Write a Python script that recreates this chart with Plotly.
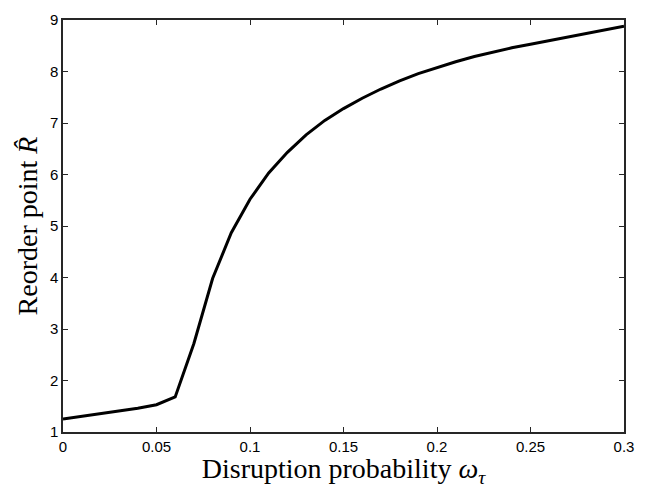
import plotly.graph_objects as go

omega = [0.00, 0.01, 0.02, 0.03, 0.04, 0.05, 0.06, 0.07, 0.08, 0.09, 0.10,
         0.11, 0.12, 0.13, 0.14, 0.15, 0.16, 0.17, 0.18, 0.19, 0.20,
         0.21, 0.22, 0.23, 0.24, 0.25, 0.26, 0.27, 0.28, 0.29, 0.30]
reorder = [1.25, 1.30, 1.35, 1.40, 1.46, 1.53, 1.68, 2.72, 3.98, 4.87, 5.52,
           6.03, 6.43, 6.77, 7.05, 7.28, 7.48, 7.66, 7.82, 7.96, 8.08,
           8.19, 8.29, 8.38, 8.46, 8.53, 8.60, 8.67, 8.73, 8.80, 8.88]

xticks = [0, 0.05, 0.1, 0.15, 0.2, 0.25, 0.3]
xticklabels = ["0", "0.05", "0.1", "0.15", "0.2", "0.25", "0.3"]
yticks = [1, 2, 3, 4, 5, 6, 7, 8, 9]

fig = go.Figure()
fig.add_trace(go.Scatter(x=omega, y=reorder, mode="lines",
                         line=dict(color="black", width=3), showlegend=False))

axis_common = dict(showgrid=False, zeroline=False, showline=True, linecolor="#262626",
                   linewidth=1.5, mirror="ticks", ticks="inside", ticklen=5,
                   tickcolor="#262626", tickwidth=1,
                   tickfont=dict(family="Liberation Sans, Arial", size=15, color="black"))

title_font = dict(family="Liberation Serif, DejaVu Serif", size=28, color="black")

fig.update_layout(
    width=656, height=488,
    margin=dict(l=63, r=32, t=11, b=56),
    paper_bgcolor="white", plot_bgcolor="white",
    xaxis=dict(range=[0, 0.3], tickvals=xticks, ticktext=xticklabels,
               title=dict(text="Disruption probability <i>ω</i><sub><i>τ</i></sub>",
                          font=title_font, standoff=0),
               **axis_common),
    yaxis=dict(range=[1, 9], tickvals=yticks,
               title=dict(text="Reorder point <i>R̂</i>",
                          font=title_font, standoff=4),
               **axis_common),
)

fig.write_html("out.html")
